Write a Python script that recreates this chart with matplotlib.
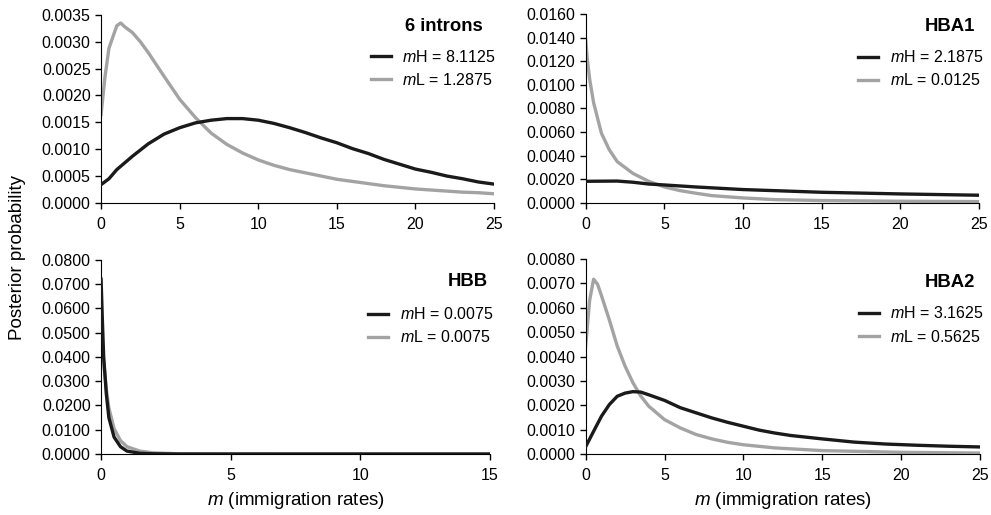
import matplotlib
matplotlib.use("Agg")
from matplotlib import pyplot as plt
from matplotlib.ticker import FormatStrFormatter

plt.rcParams['font.family'] = ['Liberation Sans', 'DejaVu Sans']
plt.rcParams['mathtext.fontset'] = 'custom'
plt.rcParams['mathtext.rm'] = 'Liberation Sans'
plt.rcParams['mathtext.it'] = 'Liberation Sans:italic'

BLACK = '#1a1a1a'
GRAY = '#a3a3a3'

# 6 introns
introns_x_h = [0, 0.5, 1, 2, 3, 4, 5, 6, 7, 8, 9, 10, 11, 12, 13, 14, 15, 16, 17, 18, 19, 20, 21, 22, 23, 24, 25]
introns_h = [0.00034, 0.00045, 0.00062, 0.00087, 0.0011, 0.00128, 0.0014, 0.00149, 0.00154, 0.00157, 0.00157,
             0.00154, 0.00148, 0.0014, 0.00131, 0.00121, 0.00112, 0.00101, 0.00092, 0.00081, 0.00072,
             0.00063, 0.00057, 0.0005, 0.00045, 0.00039, 0.00035]
introns_x_l = [0, 0.25, 0.5, 1, 1.25, 1.5, 2, 2.5, 3, 4, 5, 6, 7, 8, 9, 10, 11, 12, 13, 14, 15,
               16, 17, 18, 19, 20, 21, 22, 23, 24, 25]
introns_l = [0.00165, 0.00235, 0.00288, 0.0033, 0.00335, 0.00328, 0.00317, 0.003, 0.0028, 0.00236,
             0.00193, 0.00159, 0.0013, 0.00109, 0.00093, 0.0008, 0.0007, 0.00062, 0.00056, 0.0005,
             0.00044, 0.0004, 0.00036, 0.00032, 0.00029, 0.00026, 0.00024, 0.00022, 0.0002, 0.00019, 0.00017]

# HBA1
hba1_x_h = [0, 2, 3, 4, 5, 7, 10, 15, 20, 25]
hba1_h = [0.00183, 0.00185, 0.00175, 0.0016, 0.00152, 0.00135, 0.00113, 0.0009, 0.00076, 0.00065]
hba1_x_l = [0, 0.1, 0.25, 0.5, 1, 1.5, 2, 3, 4, 5, 6, 7, 8, 10, 12, 15, 20, 25]
hba1_l = [0.0138, 0.0122, 0.0105, 0.0085, 0.0059, 0.0045, 0.0035, 0.0025, 0.00183, 0.00135,
          0.00104, 0.00082, 0.00062, 0.00042, 0.00028, 0.0002, 0.00014, 0.00011]

# HBB
hbb_x_h = [0, 0.05, 0.1, 0.2, 0.3, 0.5, 0.75, 1, 1.5, 2, 3, 15]
hbb_h = [0.072, 0.055, 0.04, 0.025, 0.015, 0.007, 0.003, 0.0012, 0.0003, 0.0001, 0.0, 0.0]
hbb_x_l = [0, 0.1, 0.2, 0.3, 0.5, 0.75, 1, 1.5, 2, 3, 5, 15]
hbb_l = [0.05, 0.038, 0.027, 0.019, 0.0105, 0.0055, 0.003, 0.0012, 0.0005, 0.0001, 0.00003, 0.0]

# HBA2
hba2_x_h = [0, 0.5, 1, 1.5, 2, 2.5, 3, 3.5, 4, 5, 6, 7, 8, 9, 10, 11, 12, 13, 14, 15, 17, 19, 21, 23, 25]
hba2_h = [0.0003, 0.00093, 0.00155, 0.00203, 0.00237, 0.0025, 0.00256, 0.00254, 0.00243, 0.0022,
          0.0019, 0.00169, 0.00148, 0.0013, 0.00114, 0.00098, 0.00086, 0.00076, 0.00069, 0.00062,
          0.00049, 0.00041, 0.00036, 0.00032, 0.00029]
hba2_x_l = [0, 0.25, 0.5, 0.75, 1, 1.5, 2, 2.5, 3, 3.5, 4, 5, 6, 7, 8, 9, 10, 12, 15, 20, 25]
hba2_l = [0.00443, 0.0063, 0.00717, 0.00697, 0.0065, 0.0055, 0.00443, 0.0036, 0.00292, 0.00237,
          0.00196, 0.00141, 0.00107, 0.0008, 0.00062, 0.00048, 0.00038, 0.00025, 0.00014, 0.00007, 0.00004]

panels = [
    dict(title='6 introns', xh=introns_x_h, h=introns_h, xl=introns_x_l, l=introns_l,
         lab_h='8.1125', lab_l='1.2875', ymax=0.0035, ystep=0.0005, xmax=25, xstep=5,
         rect=[0.102, 0.606, 0.3965, 0.365], title_pos=(0.972, 0.94), leg_pos=(1.019, 0.855)),
    dict(title='HBA1', xh=hba1_x_h, h=hba1_h, xl=hba1_x_l, l=hba1_l,
         lab_h='2.1875', lab_l='0.0125', ymax=0.016, ystep=0.002, xmax=25, xstep=5,
         rect=[0.591, 0.606, 0.397, 0.367], title_pos=(0.99, 0.931), leg_pos=(1.026, 0.847)),
    dict(title='HBB', xh=hbb_x_h, h=hbb_h, xl=hbb_x_l, l=hbb_l,
         lab_h='0.0075', lab_l='0.0075', ymax=0.08, ystep=0.01, xmax=15, xstep=5,
         rect=[0.102, 0.1184, 0.3925, 0.377], title_pos=(0.995, 0.887), leg_pos=(1.024, 0.794)),
    dict(title='HBA2', xh=hba2_x_h, h=hba2_h, xl=hba2_x_l, l=hba2_l,
         lab_h='3.1625', lab_l='0.5625', ymax=0.008, ystep=0.001, xmax=25, xstep=5,
         rect=[0.591, 0.1184, 0.398, 0.3786], title_pos=(0.987, 0.882), leg_pos=(1.024, 0.795)),
]

fig = plt.figure(figsize=(9.91, 5.15), dpi=100)
fs = 11.5

for i, p in enumerate(panels):
    ax = fig.add_axes(p['rect'])
    ax.plot(p['xh'], p['h'], color=BLACK, lw=2.4, label=r'$m$H = ' + p['lab_h'], zorder=3)
    ax.plot(p['xl'], p['l'], color=GRAY, lw=2.4, label=r'$m$L = ' + p['lab_l'], zorder=2)
    ax.set_xlim(0, p['xmax'])
    ax.set_ylim(0, p['ymax'])
    nt = int(round(p['ymax'] / p['ystep']))
    ax.set_yticks([k * p['ystep'] for k in range(nt + 1)])
    ax.set_xticks(range(0, p['xmax'] + 1, p['xstep']))
    ax.yaxis.set_major_formatter(FormatStrFormatter('%.4f'))
    ax.spines['top'].set_visible(False)
    ax.spines['right'].set_visible(False)
    ax.tick_params(direction='out', length=4, width=1, labelsize=fs, colors='black')
    ax.tick_params(axis='x', pad=6)
    ax.text(p['title_pos'][0], p['title_pos'][1], p['title'], transform=ax.transAxes,
            ha='right', va='center', fontsize=13.3, fontweight='bold')
    ax.legend(loc='upper right', bbox_to_anchor=p['leg_pos'], frameon=False,
              fontsize=fs, handlelength=1.25, handletextpad=0.7, labelspacing=0.45,
              borderaxespad=0.0)
    if i >= 2:
        ax.set_xlabel(r'$m$ (immigration rates)', fontsize=13.5, labelpad=5)

fig.text(0.018, 0.5, 'Posterior probability', rotation=90, ha='center', va='center', fontsize=13.5)

fig.savefig('out.png', dpi=100)
